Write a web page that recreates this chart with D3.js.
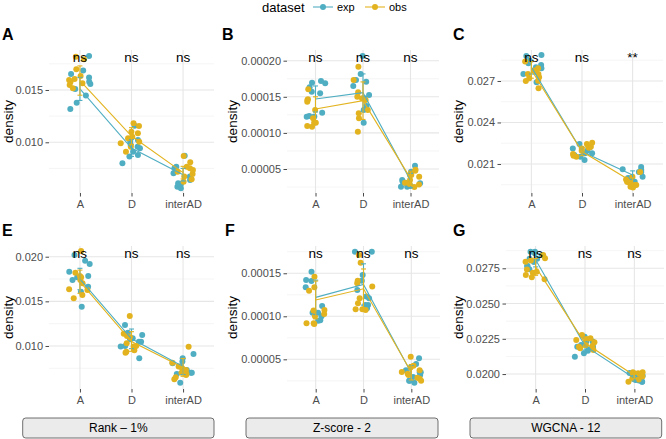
<!DOCTYPE html>
<html><head><meta charset="utf-8">
<script src="https://cdn.jsdelivr.net/npm/d3@7"></script>
<style>body{margin:0;background:#fff}svg{display:block}text{font-family:"Liberation Sans",Arial,Helvetica,sans-serif}</style>
</head><body>
<script>
const categories = ["A","D","interAD"];
const seriesNames = ["exp","obs"];
const stripLabels = ["Rank \u2013 1%","Z-score - 2","WGCNA - 12"];

// Panel A
const expA = [
 [0.01825,0.01685,0.01653,0.01618,0.01557,0.01510,0.01446,0.01379,0.01318,0.01579],
 [0.01159,0.00910,0.00943,0.00974,0.00958,0.00879,0.00863,0.00799,0.01022,0.01006],
 [0.00872,0.00767,0.00704,0.00672,0.00640,0.00608,0.00576,0.00560,0.00599,0.00752]];
const obsA = [
 [0.01818,0.01793,0.01698,0.01605,0.01579,0.01548,0.01596,0.01516,0.01634,0.01564],
 [0.01182,0.01156,0.01086,0.01054,0.01006,0.00990,0.00958,0.00910,0.01038,0.01101],
 [0.00869,0.00809,0.00752,0.00719,0.00697,0.00672,0.00646,0.00623,0.00735,0.00767]];
const meanExpA = [0.0151,0.00945,0.0069], meanObsA = [0.0159,0.0106,0.0071];
const errExpA = [0.0011,0.0008,0.0006], errObsA = [0.0014,0.0008,0.0006];
const ticksA = [0.010,0.015], tickLabelsA = ["0.010","0.015"], sigA = ["ns","ns","ns"];

// Panel B
const expB = [
 [0.0001719,0.0001695,0.0001687,0.0001632,0.0001571,0.0001548,0.0001280,0.0001234,0.0001224,0.0001228],
 [0.0002065,0.0001816,0.0001733,0.0001709,0.0001650,0.0001525,0.0001479,0.0001373,0.0001141,0.0001317],
 [0.0000546,0.0000324,0.0000301,0.0000278,0.0000255,0.0000310,0.0000463,0.0000264,0.0000255,0.0000348]];
const obsB = [
 [0.0001604,0.0001465,0.0001456,0.0001432,0.0001141,0.0001141,0.0001096,0.0001086,0.0001202,0.0001317],
 [0.0001917,0.0001733,0.0001562,0.0001501,0.0001479,0.0001456,0.0001317,0.0001271,0.0001202,0.0001017],
 [0.0000476,0.0000490,0.0000393,0.0000417,0.0000417,0.0000348,0.0000292,0.0000287,0.0000250,0.0000310]];
const meanExpB = [0.000147,0.0001557,0.000034], meanObsB = [0.000133,0.0001446,0.000037];
const errExpB = [0.000018,0.000026,0.00001], errObsB = [0.000017,0.000026,0.00001];
const ticksB = [0.00005,0.0001,0.00015,0.0002], tickLabelsB = ["0.00005","0.00010","0.00015","0.00020"], sigB = ["ns","ns","ns"];

// Panel C
const expC = [
 [0.02888,0.02881,0.02847,0.02792,0.02799,0.02767,0.02751,0.02691,0.02828,0.02816],
 [0.02245,0.02225,0.02222,0.02177,0.02153,0.02129,0.02164,0.02196,0.02211,0.02177],
 [0.02062,0.02058,0.02042,0.02008,0.01972,0.02042,0.01994,0.01964,0.02078,0.01999]];
const obsC = [
 [0.02792,0.02775,0.02751,0.02751,0.02702,0.02700,0.02647,0.02720,0.02840,0.02727],
 [0.02254,0.02245,0.02211,0.02196,0.02153,0.02160,0.02225,0.02218,0.02225,0.02172],
 [0.01965,0.01948,0.01936,0.02008,0.01987,0.01972,0.01972,0.01929,0.02042,0.01948]];
const meanExpC = [0.0280,0.0219,0.0202], meanObsC = [0.0278,0.0219,0.0197];
const errExpC = [0.0005,0.0003,0.0003], errObsC = [0.0006,0.0003,0.0003];
const ticksC = [0.021,0.024,0.027], tickLabelsC = ["0.021","0.024","0.027"], sigC = ["ns","ns","**"];

// Panel E
const expE = [
 [0.0202,0.01918,0.01955,0.01832,0.01784,0.01739,0.01608,0.0144,0.01664,0.0177],
 [0.01235,0.01149,0.01124,0.01048,0.01048,0.01074,0.0100,0.00993,0.00862,0.01087],
 [0.0091,0.00862,0.00806,0.00769,0.00731,0.00701,0.00686,0.00589,0.00701,0.00825]];
const obsE = [
 [0.02064,0.01821,0.0177,0.01702,0.01627,0.01571,0.01534,0.01635,0.01784,0.01739],
 [0.01336,0.01112,0.01137,0.0100,0.01099,0.00936,0.00925,0.00951,0.00993,0.01031],
 [0.00992,0.00813,0.00701,0.00627,0.00675,0.00649,0.0075,0.00769,0.00686,0.00731]];
const meanExpE = [0.0175,0.0108,0.0077], meanObsE = [0.0172,0.0105,0.0076];
const errExpE = [0.0012,0.0011,0.0009], errObsE = [0.0013,0.0011,0.0010];
const ticksE = [0.010,0.015,0.020], tickLabelsE = ["0.010","0.015","0.020"], sigE = ["ns","ns","ns"];

// Panel F
const expF = [
 [0.0001519,0.0001337,0.0001422,0.000141,0.000112,0.0001042,0.0001042,0.0000949,0.0000953,0.0001],
 [0.0001751,0.0001751,0.0001414,0.000148,0.0001306,0.0001209,0.0001131,0.0001131,0.0001093,0.000123],
 [0.0000512,0.0000445,0.0000318,0.0000349,0.0000349,0.0000251,0.0000229,0.0000251,0.0000295,0.0000372]];
const obsF = [
 [0.0001461,0.0001337,0.0001298,0.0001073,0.0001066,0.0001027,0.0000919,0.000091,0.0000919,0.0001],
 [0.0001713,0.0001623,0.0001414,0.0001384,0.0001345,0.0001209,0.0001081,0.0001081,0.0001073,0.0001151],
 [0.000053,0.0000425,0.0000406,0.0000372,0.0000287,0.0000275,0.0000251,0.0000333,0.0000318,0.0000353]];
const meanExpF = [0.000122,0.000137,0.000034], meanObsF = [0.000119,0.000132,0.000035];
const errExpF = [0.00002,0.000024,0.000009], errObsF = [0.000022,0.000023,0.000009];
const ticksF = [0.00005,0.0001,0.00015], tickLabelsF = ["0.00005","0.00010","0.00015"], sigF = ["ns","ns","ns"];

// Panel G
const expG = [
 [0.02868,0.02868,0.02856,0.02844,0.02766,0.02766,0.02743,0.02818,0.02794,0.02818],
 [0.02265,0.02175,0.02147,0.02123,0.02194,0.02166,0.02206,0.0223,0.0223,0.02194],
 [0.01962,0.01962,0.02007,0.01945,0.01969,0.01955,0.01945,0.01969,0.01988,0.01958]];
const obsG = [
 [0.02821,0.02797,0.02726,0.02686,0.02672,0.02719,0.02703,0.02806,0.02844,0.02742],
 [0.02277,0.02248,0.02225,0.02206,0.02199,0.02183,0.02171,0.02194,0.02242,0.02253],
 [0.01993,0.02,0.02012,0.02012,0.01969,0.01962,0.01983,0.01945,0.02005,0.02005]];
const meanExpG = [0.0281,0.0220,0.0197], meanObsG = [0.0276,0.0222,0.0199];
const errExpG = [0.0005,0.0003,0.0002], errObsG = [0.0006,0.0003,0.0002];
const ticksG = [0.02,0.0225,0.025,0.0275], tickLabelsG = ["0.0200","0.0225","0.0250","0.0275"], sigG = ["ns","ns","ns"];

// ---------- drawing ----------
const W = 666, H = 439;
const COL = {exp:"#50AEC2", obs:"#E3B31F"};
const svg = d3.select("body").append("svg").attr("width",W).attr("height",H);

const panels = [
 {letter:"A", exp:expA, obs:obsA, mE:meanExpA, mO:meanObsA, eE:errExpA, eO:errObsA, ticks:ticksA, labels:tickLabelsA, sig:sigA,
  box:[49,214,50,193], dom:[0.005153,0.01882], lx:2, tx:8},
 {letter:"B", exp:expB, obs:obsB, mE:meanExpB, mO:meanObsB, eE:errExpB, eO:errObsB, ticks:ticksB, labels:tickLabelsB, sig:sigB,
  box:[287,439,50,193], dom:[0.00001676,0.0002148], lx:222, tx:232.5},
 {letter:"C", exp:expC, obs:obsC, mE:meanExpC, mO:meanObsC, eE:errExpC, eO:errObsC, ticks:ticksC, labels:tickLabelsC, sig:sigC,
  box:[501,663,50,193], dom:[0.0189,0.02924], lx:453, tx:458},
 {letter:"E", exp:expE, obs:obsE, mE:meanExpE, mO:meanObsE, eE:errExpE, eO:errObsE, ticks:ticksE, labels:tickLabelsE, sig:sigE,
  box:[49,214,246,389], dom:[0.00518,0.0212], lx:2, tx:8, strip:[22.7,214,stripLabels[0]]},
 {letter:"F", exp:expF, obs:obsF, mE:meanExpF, mO:meanObsF, eE:errExpF, eO:errObsF, ticks:ticksF, labels:tickLabelsF, sig:sigF,
  box:[287,440,246,389], dom:[0.0000155,0.0001817], lx:225, tx:232.5, strip:[246,438,stripLabels[1]]},
 {letter:"G", exp:expG, obs:obsG, mE:meanExpG, mO:meanObsG, eE:errExpG, eO:errObsG, ticks:ticksG, labels:tickLabelsG, sig:sigG,
  box:[506,664,246,389], dom:[0.01894,0.02908], lx:453, tx:458, strip:[470,661.7,stripLabels[2]]}
];

function jit(p, s, c, i){
  const v = Math.sin((p*131 + s*57 + c*17 + i*7.3 + 1) * 12.9898) * 43758.5453;
  return (v - Math.floor(v)) - 0.5;
}

panels.forEach((P, pi) => {
  const [x0,x1,y0,y1] = P.box;
  const x = d3.scalePoint().domain(categories).range([x0,x1]).padding(0.6);
  const step = x.step();
  const y = d3.scaleLinear().domain(P.dom).range([y1,y0]);
  const g = svg.append("g");

  // minor grid
  const st = P.ticks[1]-P.ticks[0];
  const minors = [P.ticks[0]-st/2, ...P.ticks.map(t=>t+st/2)].filter(v=>v>P.dom[0]&&v<P.dom[1]);
  g.selectAll(".mn").data(minors).join("line").attr("x1",x0).attr("x2",x1)
   .attr("y1",d=>y(d)).attr("y2",d=>y(d)).attr("stroke","#EFEFEF").attr("stroke-width",0.6);
  g.selectAll(".mj").data(P.ticks).join("line").attr("x1",x0).attr("x2",x1)
   .attr("y1",d=>y(d)).attr("y2",d=>y(d)).attr("stroke","#E6E6E6").attr("stroke-width",1.1);
  g.selectAll(".vg").data(categories).join("line").attr("x1",d=>x(d)).attr("x2",d=>x(d))
   .attr("y1",y0).attr("y2",y1).attr("stroke","#E6E6E6").attr("stroke-width",1.1);

  // axes
  const ay = g.append("g").attr("transform",`translate(${x0},0)`)
    .call(d3.axisLeft(y).tickValues(P.ticks).tickFormat((d,i)=>P.labels[i]).tickSize(3.5).tickPadding(2.5));
  const ax = g.append("g").attr("transform",`translate(0,${y1})`)
    .call(d3.axisBottom(x).tickSize(3.5).tickPadding(3.5));
  [ay,ax].forEach(a=>{
    a.select(".domain").remove();
    a.selectAll(".tick line").attr("stroke","#333").attr("stroke-width",0.9);
    a.selectAll(".tick text").attr("fill","#4D4D4D").style("font-size","11px")
      .style("font-family",'"Liberation Sans",Arial,sans-serif');
  });

  // points
  const series = [["exp",P.exp],["obs",P.obs]];
  series.forEach(([name,data],si)=>{
    const pts = [];
    data.forEach((vals,ci)=>vals.forEach((v,i)=>pts.push({c:categories[ci],v,j:jit(pi,si,ci,i)})));
    g.append("g").selectAll("circle").data(pts).join("circle")
      .attr("cx",d=>x(d.c)+d.j*0.42*step).attr("cy",d=>y(d.v)).attr("r",3)
      .attr("fill",COL[name]);
  });

  // mean lines & error bars
  const stats = [["exp",P.mE,P.eE],["obs",P.mO,P.eO]];
  stats.forEach(([name,m,e])=>{
    const rows = categories.map((c,i)=>({c,m:m[i],e:e[i]}));
    g.append("path").datum(rows)
      .attr("d",d3.line().x(d=>x(d.c)).y(d=>y(d.m)))
      .attr("fill","none").attr("stroke",COL[name]).attr("stroke-width",1.1);
    const eb = g.append("g").attr("stroke",COL[name]).attr("stroke-width",1.1);
    rows.forEach(r=>{
      const cx = x(r.c);
      eb.append("line").attr("x1",cx).attr("x2",cx).attr("y1",y(r.m-r.e)).attr("y2",y(r.m+r.e));
      eb.append("line").attr("x1",cx-2.5).attr("x2",cx+2.5).attr("y1",y(r.m-r.e)).attr("y2",y(r.m-r.e));
      eb.append("line").attr("x1",cx-2.5).attr("x2",cx+2.5).attr("y1",y(r.m+r.e)).attr("y2",y(r.m+r.e));
    });
  });

  // significance labels
  g.selectAll(".sig").data(categories).join("text")
    .attr("x",d=>x(d)).attr("y",(d,i)=>y0+11.5)
    .attr("text-anchor","middle").style("font-size","13.5px").attr("fill","#000")
    .text((d,i)=>P.sig[i]);

  // panel letter
  g.append("text").attr("x",P.lx).attr("y",y0-10).style("font-size","16px").style("font-weight","bold")
    .text(P.letter);

  // y title
  g.append("text").attr("transform",`translate(${P.tx},${(y0+y1)/2}) rotate(-90)`)
    .attr("text-anchor","middle").attr("dy","0.35em").style("font-size","13.5px").text("density");

  // strip
  if (P.strip){
    const [s0,s1,lab] = P.strip;
    g.append("rect").attr("x",s0).attr("y",418).attr("width",s1-s0).attr("height",20)
      .attr("rx",3).attr("fill","#EBEBEB").attr("stroke","#4D4D4D").attr("stroke-width",0.8);
    g.append("text").attr("x",(s0+s1)/2).attr("y",432).attr("text-anchor","middle")
      .style("font-size","12px").text(lab);
  }
});

// legend
const lg = svg.append("g");
lg.append("text").attr("x",262).attr("y",11.5).style("font-size","13px").text("dataset");
seriesNames.forEach((n,i)=>{
  const cx = [323,375][i];
  lg.append("line").attr("x1",cx-10).attr("x2",cx+10).attr("y1",7).attr("y2",7)
    .attr("stroke",COL[n]).attr("stroke-width",1.1);
  lg.append("circle").attr("cx",cx).attr("cy",7).attr("r",3).attr("fill",COL[n]);
  lg.append("text").attr("x",cx+14).attr("y",11).style("font-size","11px").text(n);
});
</script>
</body></html>
